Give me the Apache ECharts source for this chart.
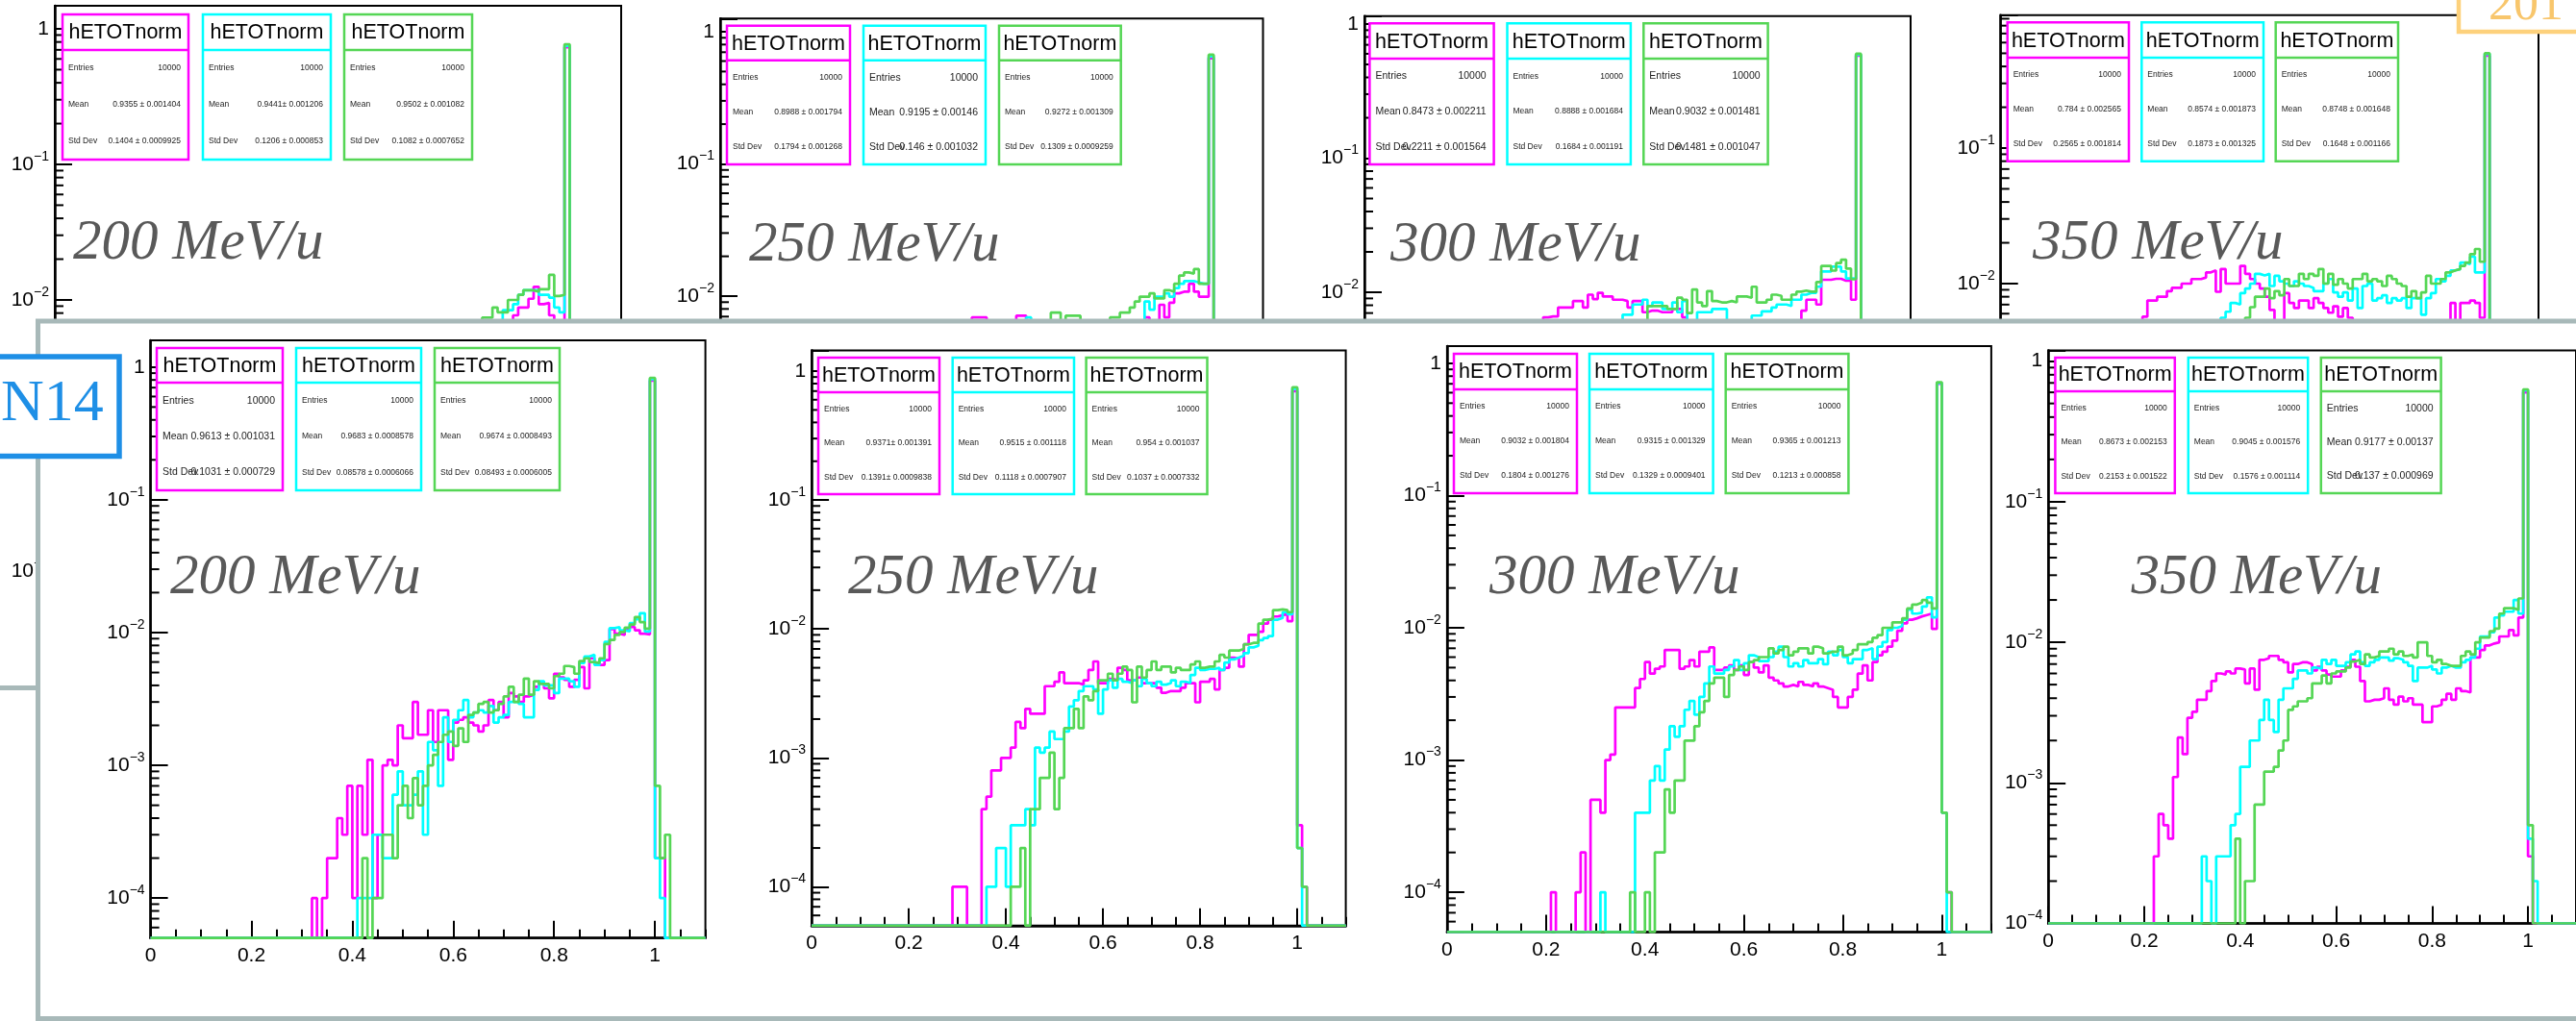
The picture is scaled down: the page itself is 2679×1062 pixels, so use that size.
<!DOCTYPE html>
<html>
<head>
<meta charset="utf-8">
<script src="https://cdn.jsdelivr.net/npm/echarts@6.0.0/dist/echarts.min.js"></script>
<style>
  html, body { margin: 0; padding: 0; background: #fff; }
  #chart { width: 2679px; height: 1062px; }
</style>
</head>
<body>
<div id="chart"></div>
<script>
const NBINS = 110;          // 0 .. 1.1 in steps of 0.01
const ENTRIES = 10000;      // every histogram has 10000 entries, drawn normalised

// counts per bin, starting at a given bin index
function fromBin(first, counts) {
  const out = new Array(NBINS).fill(0);
  counts.forEach((c, i) => { out[first + i] = c; });
  return out;
}
// counts for the few bins that stick out above the grey panel (top row)
function atBins(map) {
  const out = new Array(NBINS).fill(0);
  Object.keys(map).forEach(k => { out[+k] = map[k]; });
  return out;
}

// ---- top row (mostly hidden behind the N14 panel) ----
const t1Magenta = atBins({89:77,90:88,91:88,92:102,93:125,94:93,95:95,96:77,97:70,98:65,99:7300});
const t1Cyan = atBins({87:84,88:84,89:93,90:109,91:118,92:118,93:118,94:109,95:109,96:104,97:88,98:81,99:7500});
const t1Green = atBins({83:74,84:74,85:88,86:81,87:81,88:100,89:100,90:109,91:118,92:118,93:115,94:120,95:120,96:153,97:107,98:109,99:7700});

const t2Magenta = atBins({51:69,52:69,53:69,60:71,61:71,86:69,89:86,90:69,91:89,92:105,93:108,94:108,95:124,96:108,97:99,98:99,99:6300});
const t2Cyan = atBins({62:69,86:91,87:79,88:99,89:99,90:105,91:99,92:115,93:124,94:130,95:130,96:127,97:124,98:124,99:6500});
const t2Green = atBins({67:75,68:75,70:71,71:71,72:71,79:69,80:69,81:75,82:75,83:82,84:91,85:99,86:99,87:105,88:96,89:96,90:111,91:108,92:124,93:143,94:151,95:148,96:160,97:124,98:124,99:6700});

const t3Magenta = atBins({36:65,37:66,38:66,39:77,40:77,41:77,42:86,43:86,44:77,45:96,46:89,47:99,48:93,49:93,50:88,51:88,52:86,53:77,54:86,55:86,56:71,57:73,58:73,59:71,60:71,61:71,62:75,63:75,64:65,88:73,89:88,90:88,91:81,92:124,93:124,94:126,95:126,96:122,97:122,98:88,99:5800});
const t3Cyan = atBins({52:68,53:68,54:81,55:81,56:88,57:79,58:84,59:84,60:75,61:75,62:84,63:71,64:86,67:71,68:71,69:71,70:75,71:75,72:75,78:67,79:67,80:72,81:72,82:77,83:81,84:81,85:79,86:88,87:88,88:96,89:99,90:99,91:110,92:143,93:143,94:155,95:155,96:143,97:127,98:127,99:5900});
const t3Green = atBins({57:79,58:79,59:79,60:79,61:75,62:75,63:91,64:88,65:70,66:105,67:84,68:79,69:102,70:86,71:84,72:84,73:86,74:84,75:93,76:93,77:91,78:110,79:84,80:84,81:88,82:96,83:94,84:88,85:88,86:96,87:101,88:103,89:101,90:101,91:119,92:157,93:157,94:145,95:165,96:175,97:150,98:125,99:6000});

const t4Magenta = atBins({29:57,30:75,31:75,32:80,33:80,34:88,35:93,36:93,37:100,38:100,39:108,40:108,41:111,42:121,43:125,44:87,45:128,46:100,47:100,48:100,49:135,50:118,51:108,52:100,53:92,54:80,55:64,58:85,59:72,60:66,61:75,62:75,63:66,64:78,65:72,66:66,67:61,68:68,69:57,70:66,71:56,92:72,94:72,95:72,96:75,97:72,98:56,99:4800});
const t4Cyan = atBins({45:56,46:62,47:72,48:70,49:85,50:92,51:100,52:118,53:115,54:118,55:96,56:114,57:104,58:100,59:96,60:104,61:100,62:96,63:93,64:88,65:88,66:100,67:108,68:86,69:80,70:86,71:75,72:92,73:66,74:96,75:100,76:75,77:78,78:82,79:72,80:78,81:75,82:78,83:66,84:78,85:78,86:59,87:78,88:85,89:108,90:104,91:114,92:125,93:128,94:143,95:139,96:158,97:121,98:121,99:4950});
const t4Green = atBins({50:56,51:67,52:80,53:80,54:92,55:78,56:88,57:82,58:108,59:96,60:96,61:118,62:108,63:118,64:114,65:128,66:100,67:118,68:98,69:108,70:100,71:92,72:108,73:108,74:118,75:104,76:108,77:104,78:96,79:114,80:108,81:100,82:96,83:80,84:88,85:78,86:86,87:114,88:100,89:100,90:108,91:121,92:125,93:128,94:135,95:143,96:165,97:180,98:145,99:5000});

// ---- N14 row ----
const b1Magenta = fromBin(32, [1,0,1,2,2,4,3,7,1,7, 3,11,1,3,10,11,10,20,16,16, 30,17,17,26,15,26,26,11,21,22,
  23,21,20,18,20,31,26,30,23,35, 33,30,33,34,39,42,38,32,49,46, 44,39,44,55,38,64,59,57,62,106, 98,96,106,110,104,98,97,7900,2,2]);
const b1Cyan = fromBin(41, [1,1,1,3,3,2,2,6,9,5, 5,6,9,3,15,13,7,23,15,22, 26,31,23,25,26,25,28,21,23,24,
  30,30,29,23,23,37,43,40,40,35, 45,45,43,39,59,66,68,57,62,85, 108,110,104,102,118,126,140,102,8100,2, 1]);
const b1Green = fromBin(42, [2,0,1,1,3,3,2,5,7,4, 8,5,7,10,12,15,17,18,14,19, 15,24,25,29,30,25,26,29,33,39,
  30,34,45,34,43,41,41,38,47,49, 56,55,49,61,64,60,59,64,82,88, 96,101,109,115,131,120,107,8300,7,2, 3]);

const b2Magenta = fromBin(29, [1,1,1,0,0,0,4,5,8,8, 10,10,12,19,17,24,22,22,22,36, 36,39,46,38,38,38,37,40,48,56,
  38,38,41,40,50,48,40,40,42,38, 38,38,35,32,33,33,33,35,38,38, 27,39,39,41,34,48,50,60,59,51,
  76,90,90,95,110,118,125,128,130,115, 7000,3,1]);
const b2Cyan = fromBin(36, [1,1,2,2,1,3,3,3,4,3, 12,11,12,16,14,14,16,25,28,33, 36,36,34,22,34,40,35,41,39,38,
  40,36,41,38,36,39,37,38,40,36, 39,38,44,50,48,49,49,50,48,55, 58,60,62,65,72,74,82,85,88,118,
  122,135,130,7300,2]);
const b2Green = fromBin(41, [1,1,2,0,4,4,7,7,11,4, 7,17,17,24,17,30,28,33,40,40, 45,40,45,51,48,27,51,42,48,56,
  48,51,51,46,50,48,48,53,56,50, 51,51,56,63,60,68,68,70,76,78, 78,110,118,120,140,142,140,135,7500,2, 1]);

const b3Magenta = fromBin(21, [1,0,0,0,0,1,2,0,5,5, 4,10,11,25,25,25,25,35,41,55, 45,49,51,68,68,68,49,51,57,51,
  66,66,71,48,48,50,52,48,52,44, 55,50,46,52,42,40,38,36,37,36, 39,37,36,38,36,35,34,30,25,25,
  30,34,45,52,40,55,62,66,72,80, 95,108,115,118,122,125,128,98,7000,4, 1]);
const b3Cyan = fromBin(31, [1,0,0,0,0,0,0,4,4,4, 7,9,7,12,18,15,18,24,28,22, 30,38,51,45,45,48,51,57,48,54,
  62,60,56,56,60,66,72,60,51,54, 51,57,54,54,58,53,66,62,68,60, 54,58,58,68,70,58,72,78,96,100,
  103,115,137,128,130,145,170,120,7100,4]);
const b3Green = fromBin(37, [1,0,0,1,0,2,2,6,4,7, 7,14,14,18,23,28,38,42,42,30, 44,48,51,48,55,57,60,60,70,64,
  68,72,62,66,70,70,64,72,70,64, 66,66,72,62,64,68,75,75,78,84, 88,100,100,110,110,118,140,150,155,162,
  155,140,7200,4,1]);

const b4Magenta = fromBin(22, [3,6,5,4,11,21,16,29,32,39, 39,45,53,60,59,62,60,65,64,51, 65,46,75,77,80,80,75,72,61,70,
  72,72,70,63,67,63,59,57,57,63, 67,75,67,53,38,39,39,40,47,39, 36,41,38,40,36,36,27,27,35,36,
  39,43,39,47,45,44,78,78,88,95, 98,100,110,110,122,112,150,6000,3]);
const b4Cyan = fromBin(32, [3,2,0,3,3,3,5,6,13,13, 20,20,28,39,28,23,39,47,47,55, 63,63,60,66,65,75,70,75,68,68,
  72,82,86,72,68,72,75,78,78,74, 77,75,72,68,53,66,66,68,64,60, 66,68,66,66,72,75,78,90,110,110,
  118,150,155,165,165,200,160,6200,4,2]);
const b4Green = fromBin(39, [4,0,2,2,7,7,12,12,13,17, 20,33,35,38,38,40,51,51,58,51, 60,62,62,66,73,75,70,82,78,80,
  86,86,90,82,86,80,82,78,100,100, 80,72,75,70,68,68,68,80,86,82, 100,108,108,120,125,160,175,175,170,205,
  6300,5]);

const panelSeries = [
  [t1Magenta, t1Cyan, t1Green], [t2Magenta, t2Cyan, t2Green],
  [t3Magenta, t3Cyan, t3Green], [t4Magenta, t4Cyan, t4Green],
  [b1Magenta, b1Cyan, b1Green], [b2Magenta, b2Cyan, b2Green],
  [b3Magenta, b3Cyan, b3Green], [b4Magenta, b4Cyan, b4Green]
];
const energies = ['200 MeV/u', '250 MeV/u', '300 MeV/u', '350 MeV/u', '200 MeV/u', '250 MeV/u', '300 MeV/u', '350 MeV/u'];
const meanText = [
  ['0.9355 ± 0.001404', '0.9441± 0.001206', '0.9502 ± 0.001082'],
  ['0.8988 ± 0.001794', '0.9195 ± 0.00146', '0.9272 ± 0.001309'],
  ['0.8473 ± 0.002211', '0.8888 ± 0.001684', '0.9032 ± 0.001481'],
  ['0.784 ± 0.002565', '0.8574 ± 0.001873', '0.8748 ± 0.001648'],
  ['0.9613 ± 0.001031', '0.9683 ± 0.0008578', '0.9674 ± 0.0008493'],
  ['0.9371± 0.001391', '0.9515 ± 0.001118', '0.954 ± 0.001037'],
  ['0.9032 ± 0.001804', '0.9315 ± 0.001329', '0.9365 ± 0.001213'],
  ['0.8673 ± 0.002153', '0.9045 ± 0.001576', '0.9177 ± 0.00137']
];
const stdText = [
  ['0.1404 ± 0.0009925', '0.1206 ± 0.000853', '0.1082 ± 0.0007652'],
  ['0.1794 ± 0.001268', '0.146 ± 0.001032', '0.1309 ± 0.0009259'],
  ['0.2211 ± 0.001564', '0.1684 ± 0.001191', '0.1481 ± 0.001047'],
  ['0.2565 ± 0.001814', '0.1873 ± 0.001325', '0.1648 ± 0.001166'],
  ['0.1031 ± 0.000729', '0.08578 ± 0.0006066', '0.08493 ± 0.0006005'],
  ['0.1391± 0.0009838', '0.1118 ± 0.0007907', '0.1037 ± 0.0007332'],
  ['0.1804 ± 0.001276', '0.1329 ± 0.0009401', '0.1213 ± 0.000858'],
  ['0.2153 ± 0.001522', '0.1576 ± 0.001114', '0.137 ± 0.000969']
];

// ---- layout (pixels) ----
const COLORS = ['#ff00ff', '#00ffff', '#55d655'];
const SANS = '"Liberation Sans", Arial, sans-serif';
const SERIF = '"Liberation Serif", "DejaVu Serif", serif';
const PANEL_GREY = '#a8b9b9';
const layout = [
  {left: 57, top: 6, width: 589, height: 630.4, yMin: 5e-5, yMax: 1.48, box: [15, 52, 166], boxX: [[65, 196], [211, 344], [358, 491]], big: [0, 0, 0], label: [76, 253]},
  {left: 749, top: 19.3, width: 564.5, height: 605.1, yMin: 5e-5, yMax: 1.258, box: [26.7, 62.7, 171], boxX: [[756, 884], [898, 1025], [1039, 1165.7]], big: [0, 1, 0], label: [779, 255]},
  {left: 1419, top: 16.7, width: 568, height: 608.3, yMin: 5e-5, yMax: 1.147, box: [24.3, 61, 171], boxX: [[1424.4, 1553.6], [1567.5, 1695.9], [1709.3, 1838.6]], big: [1, 0, 1], label: [1446, 255]},
  {left: 2080.7, top: 15.7, width: 559.3, height: 603.7, yMin: 5e-5, yMax: 0.957, box: [23.3, 60, 167.7], boxX: [[2087.7, 2214], [2227.3, 2354], [2366.7, 2494]], big: [0, 0, 0], label: [2114, 253]},
  {left: 156.6, top: 354, width: 577, height: 621.7, yMin: 5e-5, yMax: 1.59, box: [362, 398, 510], boxX: [[163, 294], [308, 438], [452, 582]], big: [1, 0, 0], label: [177, 601]},
  {left: 844.1, top: 364.5, width: 555.5, height: 598.3, yMin: 5e-5, yMax: 1.447, box: [372, 408, 514], boxX: [[851, 977], [990.7, 1117], [1129.6, 1255.5]], big: [0, 0, 0], label: [882, 601]},
  {left: 1504.9, top: 360, width: 566, height: 609.5, yMin: 5e-5, yMax: 1.35, box: [368, 405, 513], boxX: [[1512, 1640], [1653, 1781.6], [1794.7, 1922.4]], big: [0, 0, 0], label: [1549, 601]},
  {left: 2130.2, top: 364.6, width: 553.8, height: 595.9, yMin: 1e-4, yMax: 1.19, box: [372, 407, 513], boxX: [[2137.4, 2261.8], [2275.8, 2400.2], [2413.8, 2538.6]], big: [0, 0, 1], label: [2216.5, 601]}
];

function steps(counts, yMin) {
  const pts = counts.map((c, k) => [+(k * 0.01).toFixed(2), Math.max(c / ENTRIES, yMin)]);
  pts.push([1.1, pts[pts.length - 1][1]]);
  return pts;
}

function logLabel(v) {
  const l = Math.log10(v);
  const e = Math.round(l);
  if (Math.abs(l - e) > 1e-6) return '';
  if (e === 0) return '{b|1}';
  return '{b|10}{s|' + String(e).replace('-', '\u2212') + '}';
}

// 2..9 x 10^n marks on the log axis
function logMinorTicks(yMin, yMax) {
  const out = [];
  for (let e = -5; e <= 0; e++) {
    for (let m = 2; m <= 9; m++) {
      const v = m * Math.pow(10, e);
      if (v > yMin && v < yMax) out.push([0, v]);
    }
  }
  return out;
}

function txt(text, x, y, font, fill, align, z) {
  return {type: 'text', z: z, silent: true, style: {text: text, x: x, y: y, font: font, fill: fill,
    align: align, verticalAlign: 'middle', textAlign: align, textVerticalAlign: 'middle'}};
}

function statBox(x0, x1, y0, div, y1, color, mean, std, big, z) {
  const fs = big ? 10.5 : 8.5;
  const els = [
    {type: 'rect', z: z, silent: true, shape: {x: x0, y: y0, width: x1 - x0, height: y1 - y0}, style: {fill: '#fff', stroke: color, lineWidth: 2.5}},
    {type: 'line', z: z, silent: true, shape: {x1: x0, y1: div, x2: x1, y2: div}, style: {stroke: color, lineWidth: 2.5}},
    txt('hETOTnorm', (x0 + x1) / 2, (y0 + div) / 2 + 1, '21.5px ' + SANS, '#000', 'center', z + 1)
  ];
  [['Entries', '10000'], ['Mean', mean], ['Std Dev', std]].forEach((r, j) => {
    const y = div + (y1 - div) * (2 * j + 1) / 6;
    els.push(txt(r[0], x0 + 6, y, fs + 'px ' + SANS, '#222', 'left', z + 1));
    els.push(txt(r[1], x1 - 8, y, fs + 'px ' + SANS, '#222', 'right', z + 1));
  });
  return els;
}

const grid = [], xAxis = [], yAxis = [], series = [];
const graphic = [];

layout.forEach((p, i) => {
  const front = i >= 4;
  const z = front ? 60 : 1;
  grid.push({left: p.left, top: p.top, width: p.width, height: p.height, show: true,
    borderColor: '#000', borderWidth: 2, backgroundColor: 'transparent', z: z});
  xAxis.push({gridIndex: i, type: 'value', min: 0, max: 1.1, interval: 0.2, position: 'bottom', z: z + 1,
    axisLine: {show: true, onZero: false, lineStyle: {color: '#000', width: 2.5}},
    axisTick: {inside: true, length: 18, lineStyle: {color: '#000', width: 2}},
    axisLabel: {showMaxLabel: false, color: '#000', fontSize: 21, fontFamily: SANS, margin: 8},
    splitLine: {show: false}});
  xAxis.push({gridIndex: i, type: 'value', min: 0, max: 1.1, interval: 0.05, position: 'bottom', z: z + 1,
    axisLine: {show: false}, axisLabel: {show: false}, splitLine: {show: false},
    axisTick: {inside: true, length: 9, lineStyle: {color: '#000', width: 2}}});
  yAxis.push({gridIndex: i, type: 'log', logBase: 10, min: p.yMin, max: p.yMax, z: z + 1,
    axisLine: {show: true, onZero: false, lineStyle: {color: '#000', width: 2.5}},
    axisTick: {inside: true, length: 18, lineStyle: {color: '#000', width: 2}},
    axisLabel: {formatter: logLabel, margin: 6, showMinLabel: true, showMaxLabel: true,
      rich: {
        b: {fontSize: 21, fontFamily: SANS, color: '#000', lineHeight: 30},
        s: {fontSize: 14, fontFamily: SANS, color: '#000', lineHeight: 14, verticalAlign: 'top'}
      }},
    splitLine: {show: false}});

  series.push({type: 'custom', xAxisIndex: 2 * i, yAxisIndex: i, z: z + 2, silent: true,
    data: logMinorTicks(p.yMin, p.yMax),
    renderItem: function (params, api) {
      const pt = api.coord([0, api.value(1)]);
      return {type: 'line', shape: {x1: pt[0], y1: pt[1], x2: pt[0] + 9, y2: pt[1]},
        style: {stroke: '#000', lineWidth: 2}};
    }});

  panelSeries[i].forEach((counts, s) => {
    series.push({type: 'line', xAxisIndex: 2 * i, yAxisIndex: i, z: z + 3, step: 'end',
      symbol: 'none', silent: true, clip: true,
      lineStyle: {color: COLORS[s], width: 2.7},
      data: steps(counts, p.yMin)});
  });

  const bz = front ? 70 : 10;
  p.boxX.forEach((bx, s) => {
    graphic.push(...statBox(bx[0], bx[1], p.box[0], p.box[1], p.box[2], COLORS[s],
      meanText[i][s], stdText[i][s], p.big[s], bz));
  });
  graphic.push(txt(energies[i], p.label[0], p.label[1], 'italic 59px ' + SERIF, '#595959', 'left', bz));
});

// slide furniture: grey N14 panel over the first row, blue tag, orange tag, stray edges
graphic.push({type: 'rect', z: 50, silent: true, shape: {x: 39.5, y: 334, width: 2700, height: 725.5},
  style: {fill: '#fff', stroke: PANEL_GREY, lineWidth: 5}});
graphic.push({type: 'line', z: 49, silent: true, shape: {x1: 0, y1: 715.5, x2: 38, y2: 715.5},
  style: {stroke: PANEL_GREY, lineWidth: 5}});
graphic.push({type: 'rect', z: 55, silent: true, shape: {x: -20, y: 371, width: 144, height: 103.5},
  style: {fill: '#fff', stroke: '#1e8fe6', lineWidth: 5.5}});
graphic.push(txt('N14', 1, 421, '62px ' + SERIF, '#1e8fe6', 'left', 56));
graphic.push({type: 'rect', z: 30, silent: true, shape: {x: 2557, y: -20, width: 200, height: 53},
  style: {fill: '#fff', stroke: '#fdd17c', lineWidth: 4.5}});
graphic.push(txt('201', 2588, 6, '52px ' + SERIF, '#f8c66c', 'left', 31));

const chart = echarts.init(document.getElementById('chart'), null, {renderer: 'canvas'});
chart.setOption({
  animation: false,
  backgroundColor: '#fff',
  grid: grid,
  xAxis: xAxis,
  yAxis: yAxis,
  series: series,
  graphic: graphic
});
</script>
</body>
</html>
